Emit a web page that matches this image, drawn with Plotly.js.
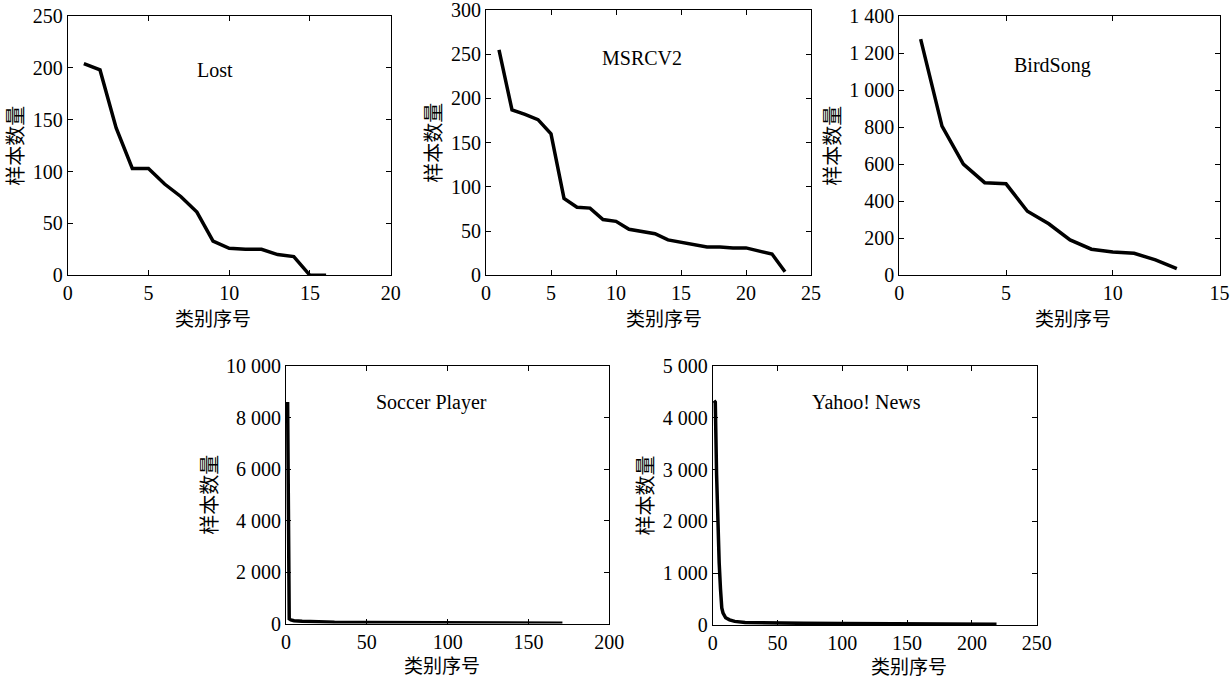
<!DOCTYPE html>
<html>
<head>
<meta charset="utf-8">
<script src="https://cdn.plot.ly/plotly-3.0.1.min.js"></script>
<style>html,body{margin:0;padding:0;background:#fff;}#chart{width:1231px;height:679px;}</style>
</head>
<body>
<div id="chart"></div>
<script>
// ---- data ----
var lostX = [1,2,3,4,5,6,7,8,9,10,11,12,13,14,15,16];
var lostY = [204,198,142,103,103,88,76,61,33,26,25,25,20,18,0,0];

var msrcX = [1,2,3,4,5,6,7,8,9,10,11,12,13,14,15,16,17,18,19,20,21,22,23];
var msrcY = [255,187,182,176,160,87,77,76,63,61,52,49,47,40,37,34,32,32,31,31,28,24,4];

var birdX = [1,2,3,4,5,6,7,8,9,10,11,12,13];
var birdY = [1275,805,600,500,494,346,278,191,141,126,119,83,36];

var soccerX = [1,2,3,5,10,20,30,50,75,100,125,150,171];
var soccerY = [8600,180,140,110,90,60,50,40,32,25,18,12,8];

var yahooX = [1,2,3,4,5,6,7,8,10,13,17,25,40,70,100,150,219];
var yahooY = [4330,4300,2900,1900,1200,700,330,230,140,100,70,50,40,32,28,22,15];

var panelNames = ["Lost","MSRCV2","BirdSong","Soccer Player","Yahoo! News"];
var xTitle = "类别序号";
var yTitle = "样本数量";
var xRanges = [[0,20],[0,25],[0,15],[0,200],[0,250]];
var yRanges = [[0,250],[0,300],[0,1400],[0,10000],[0,5000]];
var xDticks = [5,5,5,50,50];
var yDticks = [50,50,200,2000,1000];

// ---- layout (pixel boxes of the plot areas) ----
var W = 1231, H = 679;
var boxes = [
  [67.7, 390.7, 16, 275.3],
  [486, 811, 10, 275.3],
  [899.3, 1219.5, 16, 275.3],
  [286, 609.3, 366, 623.5],
  [712.7, 1036.7, 366, 625]
];
var labelPos = [[0.455,0.79],[0.48,0.82],[0.478,0.81],[0.449,0.857],[0.475,0.862]];
var xTitlePx = [212.5, 664, 1072.5, 442, 909];
var xTitleOff = [42, 42, 42, 41, 40];

var serif = "Liberation Serif, Times New Roman, serif";
var cjk = "Noto Sans CJK SC, sans-serif";

var xs = [lostX, msrcX, birdX, soccerX, yahooX];
var ys = [lostY, msrcY, birdY, soccerY, yahooY];

var data = [];
var layout = {
  width: W, height: H,
  margin: {l:0, r:0, t:0, b:0},
  paper_bgcolor: "#fff", plot_bgcolor: "#fff",
  showlegend: false,
  separators: ". ",
  font: {family: serif, size: 20, color: "#000"},
  annotations: []
};

for (var i = 0; i < 5; i++) {
  var n = i + 1;
  var xa = "x" + (n === 1 ? "" : n), ya = "y" + (n === 1 ? "" : n);
  data.push({
    x: xs[i], y: ys[i], type: "scatter", mode: "lines",
    xaxis: xa, yaxis: ya,
    line: {color: "#000", width: 3.5},
    hoverinfo: "x+y"
  });
  var b = boxes[i];
  var axCommon = {
    showline: true, linecolor: "#000", linewidth: 1, mirror: "ticks",
    ticks: "inside", ticklen: 5, tickcolor: "#000", tickwidth: 1,
    showgrid: false, zeroline: false, fixedrange: true,
    exponentformat: "none", ticklabeloverflow: "allow",
    tickfont: {family: serif, size: 20, color: "#000"}
  };
  var yr = yRanges[i];
  layout["xaxis" + (n === 1 ? "" : n)] = Object.assign({}, axCommon, {
    domain: [b[0]/W, b[1]/W], anchor: ya,
    range: xRanges[i], tick0: 0, dtick: xDticks[i]
  });
  layout["yaxis" + (n === 1 ? "" : n)] = Object.assign({}, axCommon, {
    domain: [1 - b[3]/H, 1 - b[2]/H], anchor: xa,
    range: [yr[0], yr[1] * 1.00001], tick0: 0, dtick: yDticks[i],
    separatethousands: true,
    title: {text: yTitle, font: {family: cjk, size: 20, color: "#000"}, standoff: 3}
  });
  layout.annotations.push({
    xref: xa + " domain", yref: ya + " domain",
    x: labelPos[i][0], y: labelPos[i][1], xanchor: "center", yanchor: "middle",
    text: panelNames[i], showarrow: false,
    font: {family: serif, size: 20, color: "#000"}
  });
  layout.annotations.push({
    xref: "paper", yref: "paper",
    x: xTitlePx[i]/W, y: 1 - (b[3] + xTitleOff[i])/H, xanchor: "center", yanchor: "middle",
    text: xTitle, showarrow: false,
    font: {family: cjk, size: 19, color: "#000"}
  });
}

Plotly.newPlot("chart", data, layout, {displayModeBar: false, staticPlot: true});
</script>
</body>
</html>
